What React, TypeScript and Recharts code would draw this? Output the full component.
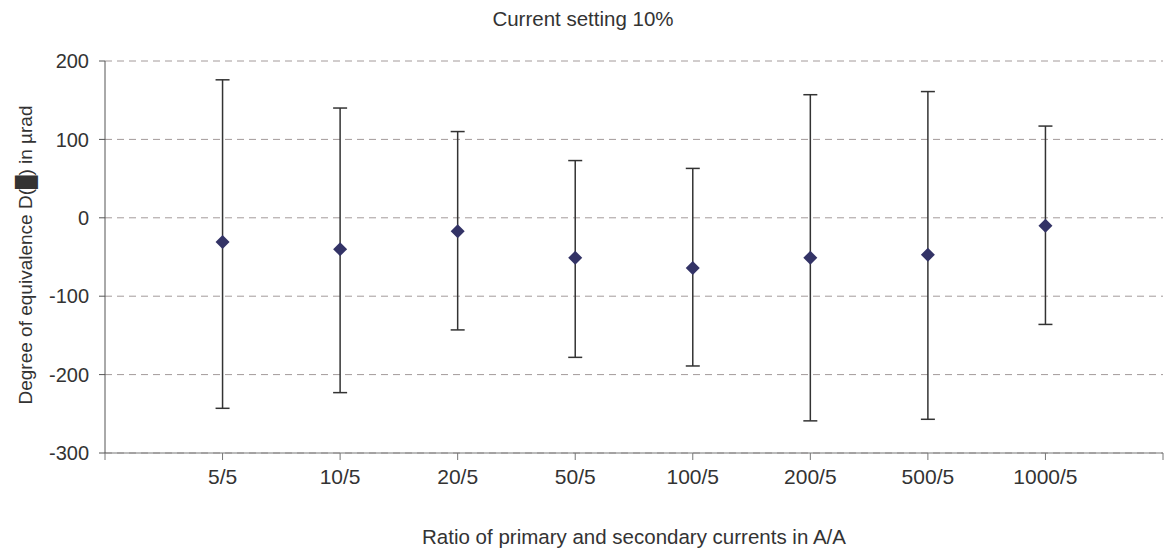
import React from 'react';
import {
  ScatterChart,
  Scatter,
  XAxis,
  YAxis,
  CartesianGrid,
  ErrorBar,
} from 'recharts';

// ratios on the x axis, in order
const categories = ['5/5', '10/5', '20/5', '50/5', '100/5', '200/5', '500/5', '1000/5'];
// degree of equivalence, µrad
const values = [-31, -40, -17, -51, -64, -51, -47, -10];
// top and bottom of each uncertainty bar
const upper = [176, 140, 110, 73, 63, 157, 161, 117];
const lower = [-243, -223, -143, -178, -189, -259, -257, -136];

const yTicks = [-300, -200, -100, 0, 100, 200];
const xTicks = [0, 1, 2, 3, 4, 5, 6, 7, 8, 9];

const data = categories.map((name, i) => ({
  name,
  x: i + 1,
  y: values[i],
  err: [values[i] - lower[i], upper[i] - values[i]],
}));

const font = '"Liberation Sans", Arial, sans-serif';
const textColor = '#333333';

const Diamond = (props: any) => {
  const { cx, cy } = props;
  const r = 7;
  return (
    <polygon
      points={`${cx},${cy - r} ${cx + r},${cy} ${cx},${cy + r} ${cx - r},${cy}`}
      fill="#333366"
    />
  );
};

const App: React.FC = () => {
  return (
    <div style={{ position: 'absolute', left: 0, top: 0, width: 1166, height: 559, background: '#fff', fontFamily: font }}>
      <div
        style={{
          position: 'absolute',
          top: 7,
          left: 0,
          width: 1166,
          textAlign: 'center',
          fontSize: 20.5,
          color: textColor,
        }}
      >
        Current setting 10%
      </div>
      <div
        style={{
          position: 'absolute',
          top: 525,
          left: 105,
          width: 1058,
          textAlign: 'center',
          fontSize: 20.5,
          color: textColor,
        }}
      >
        Ratio of primary and secondary currents in A/A
      </div>
      <div
        style={{
          position: 'absolute',
          left: 26,
          top: 255,
          transform: 'translate(-50%, -50%) rotate(-90deg)',
          whiteSpace: 'nowrap',
          fontSize: 19,
          color: textColor,
        }}
      >
        Degree of equivalence D(█) in µrad
      </div>
      <ScatterChart width={1166} height={559} margin={{ top: 61, right: 3, bottom: 66, left: 0 }}>
        <CartesianGrid vertical={false} strokeDasharray="7 5" stroke="#a39a9a" />
        <XAxis
          type="number"
          dataKey="x"
          domain={[0, 9]}
          ticks={xTicks}
          interval={0}
          height={40}
          tickFormatter={(v: number) => categories[v - 1] ?? ''}
          tick={{ fill: textColor, fontSize: 21, fontFamily: font }}
          tickSize={7}
          tickMargin={9}
          tickLine={{ stroke: '#777' }}
          axisLine={{ stroke: '#777' }}
        />
        <YAxis
          type="number"
          dataKey="y"
          domain={[-300, 200]}
          ticks={yTicks}
          interval={0}
          width={105}
          tick={{ fill: textColor, fontSize: 20, fontFamily: font }}
          tickSize={6}
          tickMargin={10}
          tickLine={{ stroke: '#555' }}
          axisLine={{ stroke: '#555' }}
        />
        <Scatter data={data} shape={<Diamond />} isAnimationActive={false}>
          <ErrorBar dataKey="err" direction="y" width={7} stroke="#333" strokeWidth={1.5} />
        </Scatter>
      </ScatterChart>
    </div>
  );
};

export default App;
